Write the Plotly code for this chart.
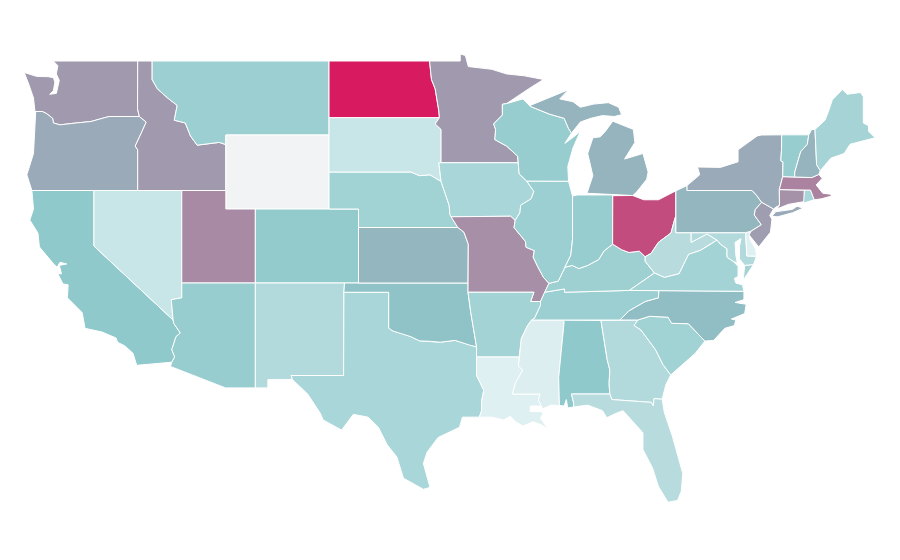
import plotly.graph_objects as go
from plotly.colors import sample_colorscale

# plotly's own us-states topojson comes from a cdn, so the outlines live in this file (lon, lat)
states = ["WA","OR","CA","NV","ID","MT","WY","UT","CO","AZ","NM","TX","OK","KS","NE","SD","ND","MN","IA","MO",
          "AR","LA","MS","AL","GA","FL","SC","NC","TN","KY","IL","IN","OH","WV","VA","MD","DE","PA","NY","NJ",
          "CT","RI","MA","VT","NH","ME","WI","MI"]
values = [49,42,29,9,49,25,None,55,28,26,17,20,32,37,23,9,100,49,20,53,
          22,1,2,29,17,15,23,34,25,24,25,26,80,15,22,17,1,37,42,47,
          52,20,58,26,38,21,26,38]

colorscale = [[0, "#e2f1f3"], [0.3, "#8dc8ca"], [1, "#d81b60"]]
no_data = "#f2f3f5"

# shared borders
columbia = [(-116.92,46.0),(-118.98,46.0),(-119.3,45.93),(-120.2,45.73),(-121.2,45.65),(-122.3,45.55),(-122.75,45.65),(-122.8,45.9),(-123.2,46.15),(-123.5,46.27),(-124.0,46.27)]
snake = [(-116.92,46.0),(-116.45,45.7),(-116.85,45.0),(-117.2,44.4),(-117.03,44.2),(-117.03,42.0)]
colorado = [(-114.63,35.0),(-114.57,34.8),(-114.14,34.3),(-114.43,34.1),(-114.72,33.4),(-114.52,33.0),(-114.72,32.72)]
id_mt = [(-116.05,49),(-116.05,48.0),(-115.7,47.5),(-115.0,47.0),(-114.35,46.6),(-114.55,45.8),(-113.8,45.65),(-113.45,44.95),(-113.0,44.45),(-111.5,44.6),(-111.05,44.48)]
red_river = [(-100,34.56),(-99.7,34.4),(-99.2,34.3),(-98.5,34.1),(-97.9,33.87),(-97.2,33.85),(-96.5,33.8),(-95.5,33.9),(-94.5,33.64),(-94.04,33.55)]
sabine = [(-94.04,32.0),(-93.55,31.2),(-93.7,30.6),(-93.7,30.1),(-93.85,29.75)]
ne_ia = [(-96.45,42.49),(-96.1,41.7),(-95.9,41.2),(-95.85,40.7)]
sd_ne = [(-104.05,43),(-98.5,43),(-97.9,42.8),(-97.2,42.85),(-96.45,42.49)]
nd_mn = [(-97.23,49),(-97.1,48.0),(-96.85,47.5),(-96.6,46.3),(-96.56,45.94)]
mn_wi = [(-92.0,46.7),(-92.29,46.66),(-92.29,46.08),(-92.88,45.6),(-92.75,45.3),(-92.8,44.75),(-92.0,44.4),(-91.25,43.85),(-91.22,43.5)]
wi_ia = [(-91.22,43.5),(-91.15,42.9),(-90.64,42.51)]
il_ia = [(-90.64,42.51),(-90.15,41.95),(-90.34,41.55),(-91.05,41.2),(-91.1,40.8),(-91.42,40.38)]
il_mo = [(-91.42,40.38),(-91.5,40.0),(-90.73,39.25),(-90.68,38.93),(-90.12,38.75),(-90.2,38.4),(-89.9,37.9),(-89.5,37.3),(-89.13,36.98)]
tn_ar = [(-89.7,36.0),(-89.7,35.8),(-90.1,35.1),(-90.3,35.0)]
ms_ar = [(-90.3,35.0),(-90.58,34.7),(-91.0,34.0),(-91.15,33.0)]
ms_la = [(-91.15,33.0),(-91.2,32.5),(-90.9,32.3),(-91.4,31.6),(-91.6,31.0),(-89.73,31.0),(-89.85,30.67),(-89.55,30.2)]
ga_al = [(-85.6,34.98),(-85.18,32.87),(-85.0,32.3),(-85.05,31.55),(-85.0,31.0)]
ga_sc = [(-83.1,35),(-83.35,34.7),(-82.9,34.47),(-81.9,33.4),(-81.4,32.6),(-80.87,32.03)]
nc_sc = [(-83.1,35),(-82.3,35.2),(-81.05,35.15),(-80.8,34.82),(-79.67,34.8),(-78.55,33.86)]
nc_tn = [(-81.68,36.59),(-81.7,36.2),(-82.6,36.0),(-83.7,35.5),(-84.32,35)]
ky_in = [(-88.05,37.85),(-87.55,37.95),(-87.1,37.78),(-86.5,37.95),(-85.75,38.27),(-85.4,38.73),(-84.81,39.1)]
ky_oh = [(-84.81,39.1),(-84.2,38.8),(-83.7,38.65),(-83.0,38.72),(-82.6,38.42)]
oh_wv = [(-82.6,38.42),(-82.2,38.6),(-81.7,39.2),(-80.85,39.7),(-80.65,40.3),(-80.52,40.64)]
ky_wv = [(-82.6,38.42),(-82.6,38.17),(-81.97,37.54)]
va_wv = [(-81.97,37.54),(-81.3,37.3),(-80.3,37.5),(-79.65,38.55),(-78.87,38.76),(-78.35,39.0),(-77.73,39.32)]
md_wv = [(-77.73,39.32),(-78.4,39.65),(-79.48,39.2),(-79.48,39.72)]
md_va = [(-77.73,39.32),(-77.5,39.1),(-77.05,38.85),(-77.05,38.4)]
pa_nj = [(-74.7,41.36),(-75.13,40.97),(-75.2,40.68),(-74.72,40.15),(-75.42,39.8)]
pa_ny = [(-79.76,42.27),(-79.76,42.0),(-75.35,42.0),(-75.05,41.75),(-74.7,41.36)]
vt_nh = [(-71.5,45.01),(-71.6,44.5),(-72.05,44.1),(-72.45,43.0),(-72.46,42.73)]
ny_vt = [(-73.34,45.01),(-73.35,44.2),(-73.4,43.6),(-73.25,43.55),(-73.27,42.75)]
wi_up = [(-90.4,46.55),(-89.1,46.13),(-88.1,45.9),(-87.8,45.35),(-87.6,45.1)]

def rev(arc):
    return arc[::-1]

outlines = {
    "WA": [[(-122.76,49),(-117.03,49),(-117.04,46.42)] + columbia + [(-124.07,46.7),(-124.1,47.0),(-124.4,47.7),(-124.73,48.38),(-123.9,48.17),(-123.1,48.15),(-122.75,48.1),(-122.65,47.85),(-122.75,47.4),(-123.0,47.2),(-122.55,47.25),(-122.45,47.6),(-122.35,47.95),(-122.55,48.3),(-122.45,48.75)]],
    "OR": [rev(columbia) + snake + [(-124.21,42.0),(-124.55,42.85),(-124.1,44.0),(-124.05,45.0),(-123.95,46.27)]],
    "CA": [[(-124.21,42.0),(-120.0,42.0),(-120.0,39.0)] + colorado + [(-117.1,32.55),(-117.35,33.2),(-117.9,33.6),(-118.4,33.8),(-118.5,34.03),(-119.45,34.35),(-120.6,34.55),(-120.8,35.4),(-121.8,36.2),(-121.75,36.9),(-122.1,36.95),(-122.45,37.5),(-122.2,37.5),(-122.35,37.95),(-121.85,38.03),(-122.3,38.12),(-122.5,37.85),(-122.7,38.0),(-123.7,38.95),(-123.8,39.7),(-124.35,40.4),(-124.1,41.0)]],
    "NV": [[(-120,42),(-114.04,42),(-114.04,36.2),(-114.75,36.1),(-114.63,35.0),(-120,39)]],
    "ID": [[(-117.03,49)] + id_mt + [(-111.05,42)] + rev(snake) + [(-117.04,46.42)]],
    "MT": [[(-116.05,49),(-104.05,49),(-104.05,45),(-111.05,45)] + rev(id_mt)],
    "WY": [[(-111.05,45),(-104.05,45),(-104.05,41),(-111.05,41)]],
    "UT": [[(-114.04,42),(-111.05,42),(-111.05,41),(-109.05,41),(-109.05,37),(-114.04,37)]],
    "CO": [[(-109.05,41),(-102.05,41),(-102.05,37),(-109.05,37)]],
    "AZ": [[(-114.04,37),(-109.05,37),(-109.05,31.33),(-111.07,31.33),(-114.81,32.49)] + rev(colorado) + [(-114.75,36.1),(-114.04,36.2)]],
    "NM": [[(-109.05,37),(-103.0,37),(-103.04,36.5),(-103.06,32.0),(-106.62,32.0),(-106.53,31.78),(-108.2,31.78),(-108.2,31.33),(-109.05,31.33)]],
    "TX": [[(-103.04,36.5),(-100,36.5)] + red_river + [(-94.04,33.0)] + sabine + [(-95.0,29.75),(-95.2,29.2),(-96.65,28.65),(-97.4,27.85),(-97.65,27.25),(-97.2,25.95),(-97.65,25.85),(-99.0,26.45),(-99.45,27.6),(-100.1,28.25),(-100.7,29.2),(-101.4,29.75),(-102.4,29.9),(-103.2,29.05),(-104.45,29.6),(-104.65,29.97),(-105.5,31.0),(-106.53,31.78),(-106.62,32.0),(-103.06,32.0)]],
    "OK": [[(-103.0,37),(-94.62,37),(-94.62,36.5),(-94.43,35.39)] + rev(red_river) + [(-100,36.5),(-103.04,36.5)]],
    "KS": [[(-102.05,40),(-95.31,40),(-94.9,39.75),(-94.6,39.1),(-94.62,37),(-102.05,37)]],
    "NE": [sd_ne + ne_ia[1:] + [(-95.31,40),(-102.05,40),(-102.05,41),(-104.05,41)]],
    "SD": [[(-104.05,45.94),(-96.56,45.94),(-96.85,45.6),(-96.45,45.3),(-96.45,43.5),(-96.6,43.5)] + rev(sd_ne)],
    "ND": [[(-104.05,49)] + nd_mn + [(-104.05,45.94)]],
    "MN": [[(-95.15,49),(-95.15,49.38),(-94.8,49.3),(-94.6,48.7),(-93.0,48.55),(-92.0,48.3),(-90.8,48.2),(-89.5,48.0),(-90.5,47.5)] + mn_wi + [(-96.45,43.5),(-96.45,45.3),(-96.85,45.6)] + rev(nd_mn)],
    "IA": [[(-96.6,43.5),(-91.22,43.5)] + wi_ia[1:] + il_ia[1:] + [(-91.73,40.61),(-95.77,40.58)] + rev(ne_ia)],
    "MO": [[(-95.77,40.58),(-91.73,40.61)] + il_mo + [(-89.42,36.5),(-89.7,36.0),(-90.37,36.0),(-90.15,36.5),(-94.62,36.5),(-94.62,37),(-94.6,39.1),(-94.9,39.75),(-95.31,40)]],
    "AR": [[(-94.62,36.5),(-90.15,36.5),(-90.37,36.0)] + tn_ar + ms_ar[1:] + [(-94.04,33.0),(-94.04,33.55),(-94.43,35.39)]],
    "LA": [[(-94.04,33.0)] + ms_la + [(-89.75,30.35),(-90.4,30.35),(-90.4,30.05),(-89.75,30.05),(-89.5,30.0),(-89.7,29.7),(-89.2,29.1),(-89.55,29.3),(-90.2,29.5),(-90.9,29.27),(-91.4,29.5),(-91.75,29.8),(-92.2,29.6),(-93.0,29.75),(-93.85,29.75)] + rev(sabine)[1:]],
    "MS": [ms_ar + ms_la[1:] + [(-89.0,30.4),(-88.42,30.38),(-88.47,31.9),(-88.1,34.9),(-88.2,35)]],
    "AL": [[(-88.2,35)] + ga_al + [(-87.6,31.0),(-87.45,30.5),(-87.45,30.3),(-87.85,30.25),(-87.95,30.7),(-88.1,30.35),(-88.42,30.38),(-88.47,31.9),(-88.1,34.9)]],
    "GA": [ga_al[:1] + ga_sc + [(-81.2,31.5),(-81.45,30.72),(-82.0,30.75),(-82.05,30.36),(-82.2,30.55),(-84.86,30.7)] + rev(ga_al)],
    "FL": [[(-87.6,31),(-85,31),(-84.86,30.7),(-82.2,30.55),(-82.05,30.36),(-82.0,30.75),(-81.45,30.72),(-81.3,30.0),(-80.75,28.7),(-80.05,26.7),(-80.15,25.75),(-80.4,25.25),(-81.05,25.15),(-81.7,26.0),(-82.1,27.0),(-82.75,28.0),(-82.75,28.9),(-83.4,29.5),(-84.1,30.1),(-84.6,29.95),(-85.2,29.72),(-85.5,30.1),(-86.5,30.4),(-87.45,30.3),(-87.45,30.5)]],
    "SC": [nc_sc + [(-79.2,33.2),(-79.9,32.7)] + rev(ga_sc)],
    "NC": [[(-84.32,35)] + nc_sc + [(-77.95,33.9),(-77.2,34.55),(-76.55,34.7),(-76.45,35.0),(-76.75,35.05),(-75.85,35.35),(-75.75,35.85),(-76.5,35.95),(-75.9,36.1),(-75.9,36.55)] + nc_tn],
    "TN": [[(-90.3,35.0),(-88.2,35),(-85.6,34.98)] + rev(nc_tn) + [(-83.68,36.6),(-88.07,36.5),(-88.07,36.68),(-89.42,36.5)] + tn_ar],
    "KY": [[(-89.13,36.98),(-88.5,37.1)] + ky_in + ky_oh[1:] + ky_wv[1:] + [(-83.68,36.6),(-88.07,36.5),(-88.07,36.68),(-89.42,36.5)]],
    "IL": [[(-90.64,42.51),(-87.8,42.5),(-87.53,41.7),(-87.53,39.35),(-87.65,38.5),(-88.05,37.85),(-88.5,37.1)] + rev(il_mo) + rev(il_ia)[1:]],
    "IN": [[(-87.53,41.7),(-87.2,41.76),(-84.8,41.76)] + rev(ky_in) + [(-87.65,38.5),(-87.53,39.35)]],
    "OH": [[(-84.8,41.72),(-83.45,41.73),(-82.7,41.5),(-81.7,41.5),(-80.52,41.98)] + rev(oh_wv) + rev(ky_oh)[1:]],
    "WV": [oh_wv + [(-80.52,39.72)] + rev(md_wv)[:-1] + rev(va_wv)[:-1] + rev(ky_wv)],
    "VA": [[(-83.68,36.6),(-81.68,36.59),(-75.9,36.55),(-76.0,36.9),(-76.45,37.0),(-76.55,37.25),(-76.3,37.35),(-76.3,37.9),(-76.6,38.15)] + [(-77.05,38.4)] + rev(md_va)[1:] + va_wv[::-1][1:],
           [(-75.95,37.15),(-75.85,37.95),(-75.25,38.0)]],
    "MD": [[(-79.48,39.72),(-75.79,39.72),(-75.7,38.46),(-75.05,38.45),(-75.25,38.0),(-75.85,37.95),(-76.2,38.3),(-76.2,39.0),(-76.1,39.4),(-76.5,39.2),(-76.45,38.5),(-76.35,38.1),(-76.6,38.15)] + rev(md_va) + md_wv[1:]],
    "DE": [[(-75.79,39.72),(-75.42,39.8),(-75.55,39.45),(-75.1,38.8),(-75.05,38.45),(-75.7,38.46)]],
    "PA": [[(-80.52,41.98)] + pa_ny + pa_nj[1:] + [(-75.79,39.72),(-80.52,39.72)]],
    "NY": [[(-78.9,42.85),(-79.05,43.27),(-77.5,43.25),(-76.3,43.55),(-76.3,44.2),(-75.0,44.95),(-74.7,45.0)] + ny_vt + [(-73.5,42.05),(-73.49,41.2),(-73.73,41.1),(-73.9,41.0)] + rev(pa_ny),
           [(-74.0,40.6),(-73.75,40.85),(-72.6,40.98),(-72.3,41.15),(-71.87,41.05),(-72.6,40.8),(-73.6,40.58)]],
    "NJ": [[(-74.7,41.36),(-73.9,41.0),(-74.15,40.65),(-74.0,40.45),(-74.1,39.75),(-74.9,38.95),(-75.55,39.6)] + rev(pa_nj)[:-1]],
    "CT": [[(-73.5,42.05),(-71.8,42.02),(-71.8,41.4),(-72.9,41.25),(-73.66,41.0),(-73.49,41.2)]],
    "RI": [[(-71.8,42.02),(-71.38,42.02),(-71.13,41.5),(-71.85,41.32)]],
    "MA": [[(-73.27,42.75),(-72.46,42.73),(-71.3,42.7),(-70.82,42.87),(-70.6,42.65),(-71.0,42.3),(-70.55,41.85),(-70.0,41.8),(-70.25,42.07),(-69.95,41.7),(-70.65,41.55),(-71.13,41.5),(-71.38,42.02),(-71.8,42.02),(-73.5,42.05)]],
    "VT": [ny_vt[:1] + vt_nh + rev(ny_vt)],
    "NH": [[(-71.5,45.01),(-71.3,45.3),(-71.08,45.3),(-70.97,43.4),(-70.72,43.07),(-70.82,42.87),(-71.3,42.7)] + rev(vt_nh)],
    "ME": [[(-71.08,45.3),(-70.4,45.8),(-70.2,46.2),(-69.9,46.9),(-69.22,47.46),(-68.9,47.2),(-68.0,47.3),(-67.8,47.07),(-67.8,45.65),(-67.45,45.5),(-67.45,45.2),(-67.0,44.85),(-68.7,44.5),(-69.1,44.0),(-70.0,43.75),(-70.55,43.2),(-70.72,43.07),(-70.97,43.4)]],
    "WI": [[(-92.0,46.7),(-90.9,46.95)] + wi_up + [(-88.05,44.55),(-87.45,44.9),(-87.0,45.2),(-87.5,44.3),(-87.85,43.3),(-87.8,42.5)] + rev(wi_ia) + rev(mn_wi)[1:]],
    "MI": [[(-90.4,46.6),(-89.8,46.8),(-88.7,47.15),(-87.8,47.45),(-88.4,46.95),(-87.5,46.8),(-87.0,46.5),(-86.1,46.67),(-85.1,46.75),(-84.4,46.5),(-84.2,46.1),(-84.7,46.0),(-85.5,46.05),(-86.3,45.9),(-87.0,45.7),(-87.6,45.1)] + rev(wi_up)[1:],
           [(-86.55,41.85),(-84.8,41.76),(-83.45,41.73),(-83.2,41.9),(-82.5,42.6),(-82.4,43.0),(-82.75,44.0),(-84.0,43.7),(-83.3,44.6),(-83.4,45.3),(-84.8,45.75),(-85.3,45.2),(-85.65,44.9),(-86.15,44.85),(-86.5,44.0),(-86.15,42.8)]],
}

fig = go.Figure()
for state, value in zip(states, values):
    if value is None:
        color = no_data
    else:
        color = sample_colorscale(colorscale, value / 100)[0]
    xs, ys = [], []
    for ring in outlines[state]:
        xs += [p[0] for p in ring] + [ring[0][0], None]
        ys += [p[1] for p in ring] + [ring[0][1], None]
    fig.add_trace(go.Scatter(x=xs, y=ys, mode="lines", fill="toself", fillcolor=color, name=state,
                             line=dict(color="white", width=1), hoveron="fills", showlegend=False))

# the page adds an 8px body margin, the ranges allow for it
fig.update_xaxes(visible=False, range=[-125.83, -64.77])
fig.update_yaxes(visible=False, range=[21.595, 51.865])
fig.update_layout(width=900, height=560, margin=dict(l=0, r=0, t=0, b=0),
                  plot_bgcolor="white", paper_bgcolor="white")
fig.write_html("out.html")
